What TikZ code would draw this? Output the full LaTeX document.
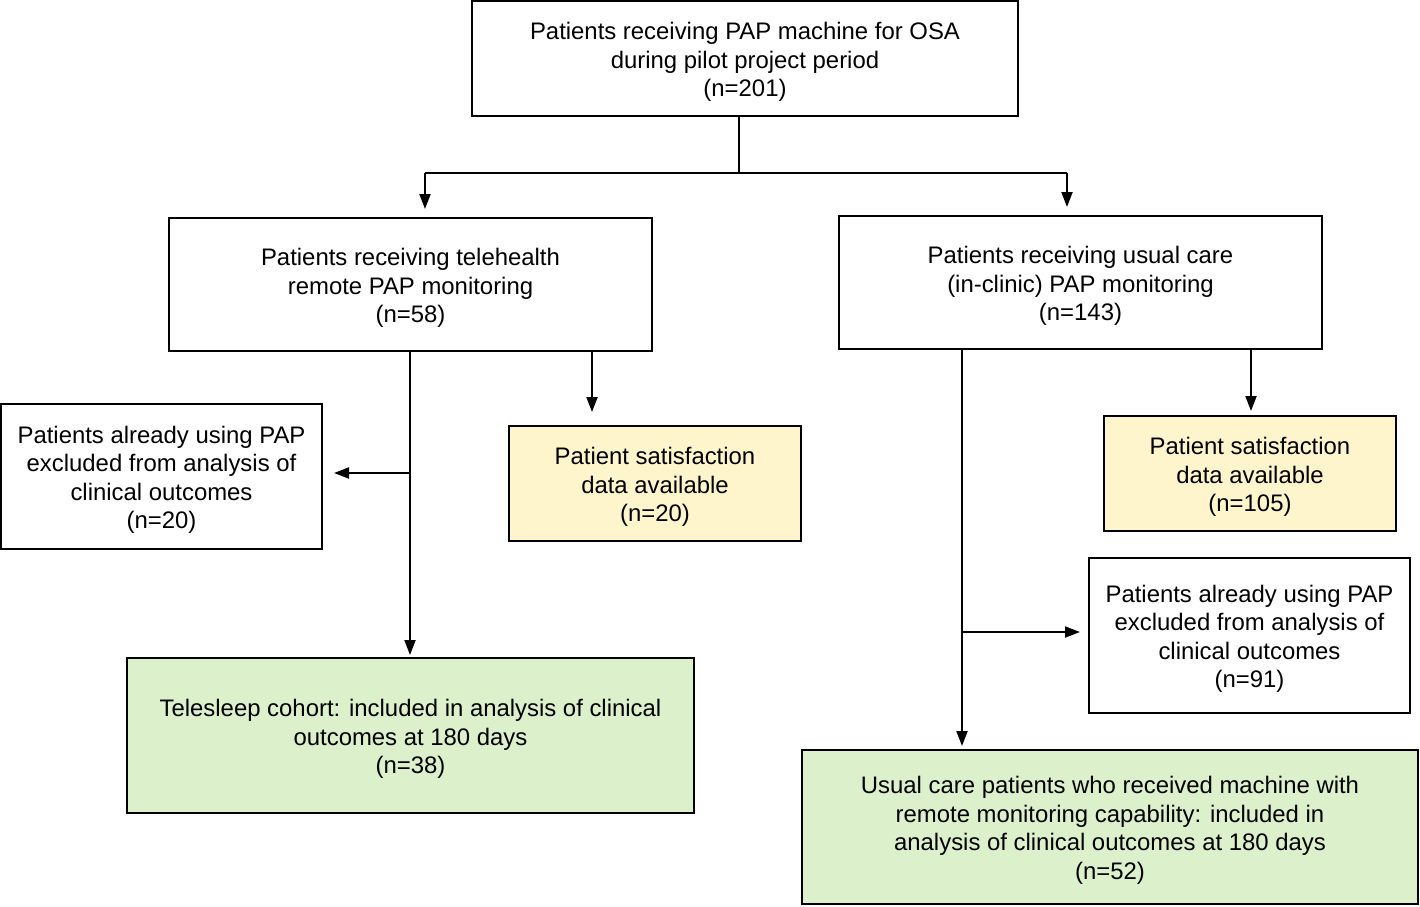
\documentclass[tikz,border=0pt]{standalone}
\usepackage{fontspec}
\setmainfont{Liberation Sans}
\usetikzlibrary{arrows.meta}
\definecolor{boxyellow}{HTML}{FFF5CC}
\definecolor{boxgreen}{HTML}{DDF0CC}
\newcommand\topstrut{\rule{0pt}{12pt}}
\begin{document}
\begin{tikzpicture}[x=0.5pt,y=-0.5pt,
  box/.style={draw=black,line width=1pt,align=center,inner sep=0pt,
    font=\fontsize{11.95pt}{14.3pt}\selectfont},
  yel/.style={box,fill=boxyellow},
  grn/.style={box,fill=boxgreen},
  conn/.style={line width=1pt},
  arr/.style={conn,-{Triangle[length=7.5pt,width=5.5pt]}}]
\useasboundingbox (0,0) rectangle (1420,906);
\node[box,minimum width=273pt,minimum height=57.5pt] (top) at (745,58.5)
  {\topstrut Patients receiving PAP machine for OSA\\during pilot project period\\(n=201)};
\node[box,minimum width=241.5pt,minimum height=66.5pt] (tele) at (410.5,284.5)
  {\topstrut Patients receiving telehealth\\remote PAP monitoring\\(n=58)};
\node[box,minimum width=241.5pt,minimum height=66.5pt] (usual) at (1080.5,282.5)
  {\topstrut Patients receiving usual care\\(in-clinic) PAP monitoring\\(n=143)};
\node[box,minimum width=160.5pt,minimum height=72.5pt] (exclL) at (161.5,476.5)
  {\topstrut Patients already using PAP\\excluded from analysis of\\clinical outcomes\\(n=20)};
\node[yel,minimum width=146pt,minimum height=57.5pt] (yelL) at (655,483.5)
  {\topstrut Patient satisfaction\\data available\\(n=20)};
\node[yel,minimum width=146pt,minimum height=57.5pt] (yelR) at (1250,473.5)
  {\topstrut Patient satisfaction\\data available\\(n=105)};
\node[box,minimum width=160.5pt,minimum height=77.5pt] (exclR) at (1249.5,635.5)
  {\topstrut Patients already using PAP\\excluded from analysis of\\clinical outcomes\\(n=91)};
\node[grn,minimum width=283.5pt,minimum height=77.5pt] (grnL) at (410.5,735.5)
  {\topstrut Telesleep cohort: included in analysis of clinical\\outcomes at 180 days\\(n=38)};
\node[grn,minimum width=308pt,minimum height=77pt] (grnR) at (1110,827)
  {\topstrut Usual care patients who received machine with\\remote monitoring capability: included in\\analysis of clinical outcomes at 180 days\\(n=52)};
% junctions
\coordinate (j) at (739,173);
\coordinate (jl) at (425,173);
\coordinate (jr) at (1067,173);
\coordinate (tl) at (410,473);
\coordinate (ty) at (592,0);
\coordinate (ul) at (962,632);
\coordinate (uy) at (1251,0);
\draw[conn] (j |- top.south) -- (j);
\draw[conn] (jl) -- (jr);
\draw[arr,shorten >=4pt] (jl) -- (jl |- tele.north);
\draw[arr,shorten >=4pt] (jr) -- (jr |- usual.north);
\draw[arr,shorten >=1pt] (tl |- tele.south) -- (tl |- grnL.north);
\draw[arr,shorten >=5.5pt] (tl) -- (tl -| exclL.east);
\draw[arr,shorten >=6.5pt] (ty |- tele.south) -- (ty |- yelL.north);
\draw[arr,shorten >=1.5pt] (ul |- usual.south) -- (ul |- grnR.north);
\draw[arr,shorten >=4pt] (ul) -- (ul -| exclR.west);
\draw[arr,shorten >=2pt] (uy |- usual.south) -- (uy |- yelR.north);
\end{tikzpicture}
\end{document}
